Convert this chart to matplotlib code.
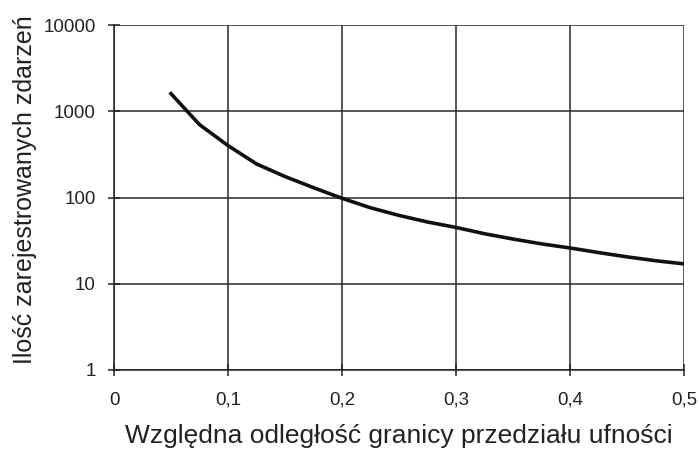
import matplotlib

matplotlib.use("Agg")

import matplotlib.pyplot as plt
from matplotlib.ticker import FixedLocator, FixedFormatter, NullLocator

plt.rcParams["font.family"] = ["Liberation Sans", "DejaVu Sans"]

odleglosc = [0.05, 0.075, 0.1, 0.125, 0.15, 0.175, 0.2, 0.225, 0.25, 0.275,
             0.3, 0.325, 0.35, 0.375, 0.4, 0.425, 0.45, 0.475, 0.5]
zdarzenia = [1600, 700, 400, 245, 175, 130, 98, 76, 62, 52,
             45, 38, 33, 29, 26, 23, 20.5, 18.5, 17]

x_ticks = [0, 0.1, 0.2, 0.3, 0.4, 0.5]
x_labels = ["0", "0,1", "0,2", "0,3", "0,4", "0,5"]
y_ticks = [1, 10, 100, 1000, 10000]
y_labels = ["1", "10", "100", "1000", "10000"]

fig = plt.figure(figsize=(6.99, 4.53), dpi=100)
ax = fig.add_axes([114 / 699, 83 / 453, 570 / 699, 345 / 453])

ax.plot(odleglosc, zdarzenia, color="#111111", linewidth=2.6, solid_joinstyle="round")

ax.set_yscale("log")
ax.set_xlim(0, 0.5)
ax.set_ylim(1, 10000)

ax.xaxis.set_major_locator(FixedLocator(x_ticks))
ax.xaxis.set_major_formatter(FixedFormatter(x_labels))
ax.yaxis.set_major_locator(FixedLocator(y_ticks))
ax.yaxis.set_major_formatter(FixedFormatter(y_labels))
ax.yaxis.set_minor_locator(NullLocator())

ax.grid(True, color="#2a2a2a", linewidth=1.1)
ax.set_axisbelow(True)

for side in ("top", "right"):
    ax.spines[side].set_visible(False)
for side in ("left", "bottom"):
    ax.spines[side].set_linewidth(1.1)
    ax.spines[side].set_color("#222222")

ax.tick_params(axis="both", direction="inout", length=9, width=1.1,
               color="#222222", labelsize=13.5, labelcolor="#222222")
ax.tick_params(axis="x", pad=11)
ax.tick_params(axis="y", pad=8.5)

ax.set_xlabel("Względna odległość granicy przedziału ufności", fontsize=19,
              color="#222222", labelpad=11)
ax.set_ylabel("Ilość zarejestrowanych zdarzeń", fontsize=18, color="#222222")
# etykieta osi Y lekko powyżej środka, jak w oryginale
ax.yaxis.set_label_coords(-0.135, 0.523)

fig.savefig("out.png", dpi=100)
